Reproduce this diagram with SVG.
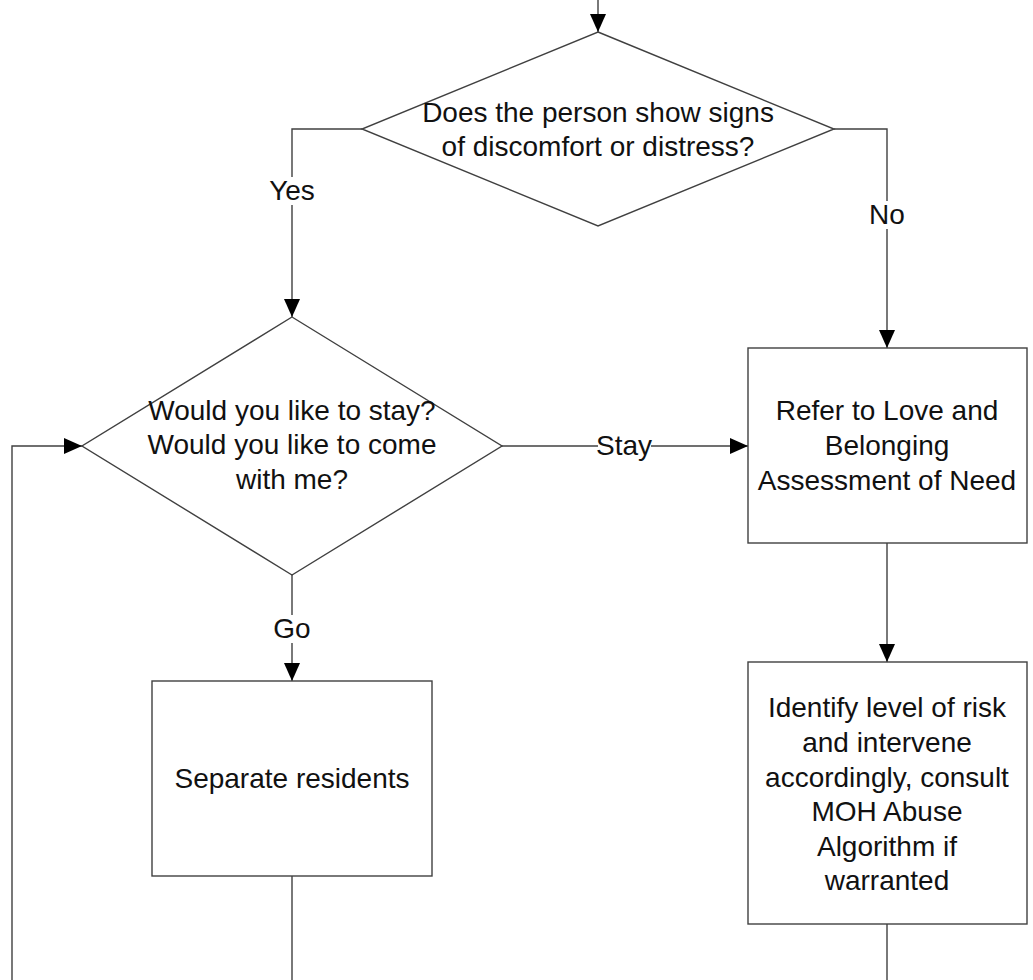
<svg xmlns="http://www.w3.org/2000/svg" width="1033" height="980" viewBox="0 0 1033 980">
<defs>
<marker id="arr" viewBox="0 0 18 16" refX="18" refY="8" markerWidth="18" markerHeight="16" markerUnits="userSpaceOnUse" orient="auto">
<path d="M0,0 L18,8 L0,16 Z" fill="#000"/>
</marker>
</defs>
<style>
.shape{fill:#fff;stroke:#404040;stroke-width:1.4}
.conn{fill:none;stroke:#404040;stroke-width:1.4}
.t{font-family:"Liberation Sans",Arial,sans-serif;font-size:28px;fill:#111;text-anchor:middle}
.lbg{fill:#fff}
</style>
<rect width="1033" height="980" fill="#fff"/>
<g id="connectors">
<path class="conn" d="M598,0 L598,32" marker-end="url(#arr)"/>
<path class="conn" d="M362,129 L292,129 L292,317" marker-end="url(#arr)"/>
<path class="conn" d="M834,129 L887,129 L887,348" marker-end="url(#arr)"/>
<path class="conn" d="M502,446 L748,446" marker-end="url(#arr)"/>
<path class="conn" d="M292,575 L292,681" marker-end="url(#arr)"/>
<path class="conn" d="M887,543 L887,662" marker-end="url(#arr)"/>
<path class="conn" d="M12,980 L12,446 L82,446" marker-end="url(#arr)"/>
<path class="conn" d="M292,876 L292,980"/>
<path class="conn" d="M887,924 L887,980"/>
<g id="label-yes"><rect class="lbg" x="268" y="177" width="48" height="28"/><text class="t" x="292" y="200">Yes</text></g>
<g id="label-no"><rect class="lbg" x="867" y="201" width="40" height="28"/><text class="t" x="887" y="224">No</text></g>
<g id="label-stay"><rect class="lbg" x="598" y="432" width="53" height="28"/><text class="t" x="624" y="455">Stay</text></g>
<g id="label-go"><rect class="lbg" x="272" y="615" width="40" height="28"/><text class="t" x="292" y="638">Go</text></g>
</g>
<g id="d1">
<polygon class="shape" points="598,32 834,129 598,226 362,129"/>
<text class="t" x="598" y="122">Does the person show signs</text>
<text class="t" x="598" y="156">of discomfort or distress?</text>
</g>
<g id="d2">
<polygon class="shape" points="292,317 502,446 292,575 82,446"/>
<text class="t" x="292" y="420">Would you like to stay?</text>
<text class="t" x="292" y="454">Would you like to come</text>
<text class="t" x="292" y="489">with me?</text>
</g>
<g id="b1">
<rect class="shape" x="748" y="348" width="279" height="195"/>
<text class="t" x="887" y="420">Refer to Love and</text>
<text class="t" x="887" y="455">Belonging</text>
<text class="t" x="887" y="490">Assessment of Need</text>
</g>
<g id="b2">
<rect class="shape" x="748" y="662" width="279" height="262"/>
<text class="t" x="887" y="717">Identify level of risk</text>
<text class="t" x="887" y="752">and intervene</text>
<text class="t" x="887" y="787">accordingly, consult</text>
<text class="t" x="887" y="821">MOH Abuse</text>
<text class="t" x="887" y="856">Algorithm if</text>
<text class="t" x="887" y="890">warranted</text>
</g>
<g id="b3">
<rect class="shape" x="152" y="681" width="280" height="195"/>
<text class="t" x="292" y="788">Separate residents</text>
</g>
</svg>
